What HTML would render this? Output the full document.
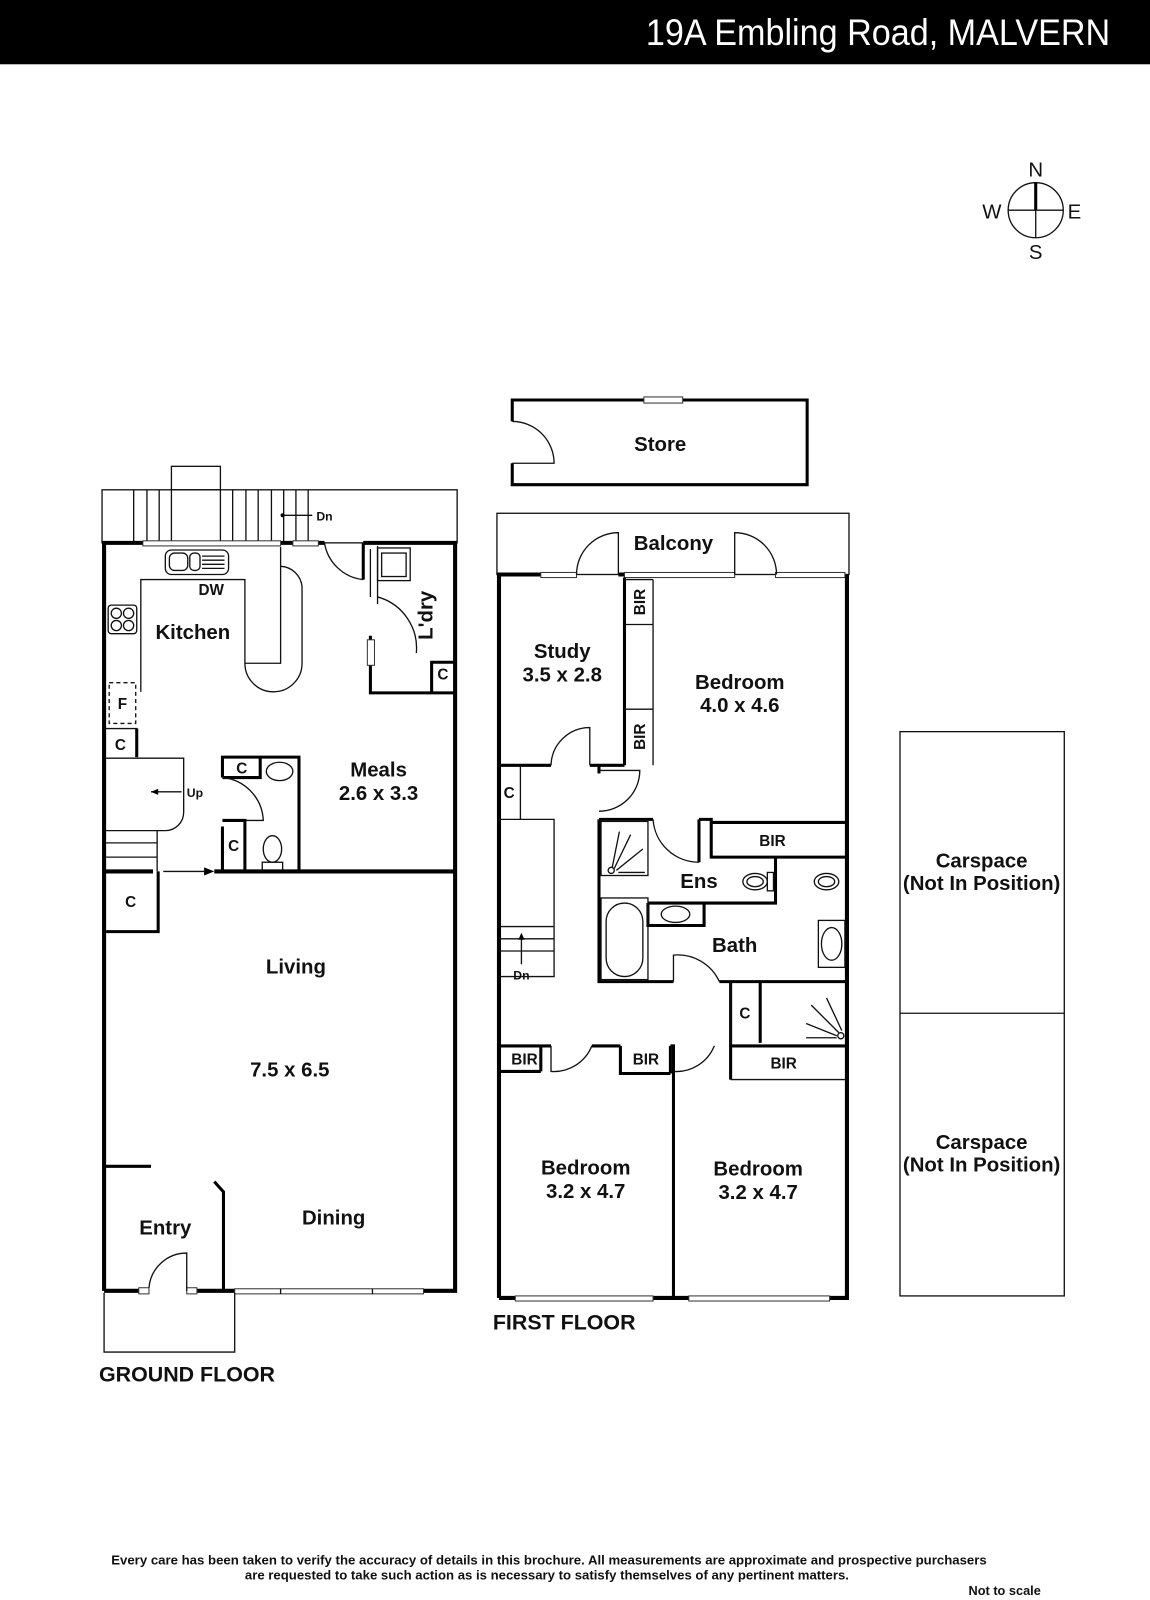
<!DOCTYPE html>
<html><head><meta charset="utf-8"><style>
html,body{margin:0;padding:0;background:#fff}
svg{display:block}
text{font-family:"Liberation Sans Narrow","Liberation Sans",sans-serif;fill:#111}
.t{font-size:20px;font-weight:bold;text-anchor:middle}
.s{font-size:15px;font-weight:bold;text-anchor:middle}
.w{stroke:#000;stroke-width:4;fill:none}
.m{stroke:#000;stroke-width:3;fill:none}
.n{stroke:#111;stroke-width:1.3;fill:none}
.win{stroke:#333;stroke-width:1;fill:#fff}
</style></head><body>
<svg width="1150" height="1600" viewBox="0 0 1127 1568" preserveAspectRatio="none" xmlns="http://www.w3.org/2000/svg">
<rect x="0" y="0" width="1127" height="63" fill="#000"/>
<text x="1088" y="44" font-size="36" style="fill:#fff;text-anchor:end" textLength="455" lengthAdjust="spacingAndGlyphs">19A Embling Road, MALVERN</text>

<!-- compass -->
<circle cx="1015" cy="206" r="27" class="n"/>
<line x1="988" y1="206" x2="1042" y2="206" class="n"/>
<line x1="1015" y1="179" x2="1015" y2="233" class="n"/>
<line x1="1015" y1="179" x2="1015" y2="206" stroke="#000" stroke-width="3"/>
<text x="1015" y="173" font-size="20" text-anchor="middle">N</text>
<text x="1015" y="254" font-size="20" text-anchor="middle">S</text>
<text x="972" y="214" font-size="20" text-anchor="middle">W</text>
<text x="1053" y="214" font-size="20" text-anchor="middle">E</text>

<!-- ================= GROUND FLOOR ================= -->
<rect x="100" y="480" width="348" height="52" class="n"/>
<rect x="168" y="457" width="48" height="23" class="n"/>
<g class="n">
<line x1="131" y1="480" x2="131" y2="532"/><line x1="144" y1="480" x2="144" y2="532"/><line x1="156" y1="480" x2="156" y2="532"/><line x1="168" y1="480" x2="168" y2="532"/>
<line x1="216" y1="480" x2="216" y2="532"/><line x1="228" y1="480" x2="228" y2="532"/><line x1="241" y1="480" x2="241" y2="532"/><line x1="253" y1="480" x2="253" y2="532"/><line x1="266" y1="480" x2="266" y2="532"/><line x1="278" y1="480" x2="278" y2="532"/><line x1="290" y1="480" x2="290" y2="532"/><line x1="302" y1="480" x2="302" y2="532"/>
<line x1="275" y1="505" x2="306" y2="505"/>
</g>
<circle cx="277" cy="505" r="2" fill="#000"/>
<text x="310" y="510" font-size="12" font-weight="bold">Dn</text>

<!-- outer walls -->
<path class="w" d="M102,1265 V532 H140 M275,532 H287 M312,532 H318"/>
<rect x="140" y="530" width="135" height="5" class="win"/>
<rect x="287" y="530" width="25" height="5" class="win"/>
<path class="n" d="M318,532 A43,43 0 0 0 356,568"/>
<path class="w" d="M356,532 H446 V1265 H415 M230,1265 H183 M140,1265 H102"/>
<path class="m" d="M356,532 V568"/>
<rect x="230" y="1263" width="185" height="5" class="win"/>
<line x1="275" y1="1263" x2="275" y2="1268" class="n"/><line x1="365" y1="1263" x2="365" y2="1268" class="n"/>
<rect x="136" y="1262" width="10" height="6" class="win"/><rect x="183" y="1262" width="10" height="6" class="win"/>
<path class="n" d="M183,1265 V1228 A37,37 0 0 0 146,1262"/>
<!-- entry porch -->
<path class="n" d="M102,1267 V1325 H230 V1267"/>

<!-- laundry -->
<path class="n" d="M363,538 V585 M370,592 V535"/>
<path class="n" d="M370,585 A52,52 0 0 1 408,640"/>
<rect x="370" y="537" width="32" height="32" class="n"/><rect x="374" y="542" width="24" height="23" class="n"/>
<path class="m" d="M363,623 V679 H446"/>
<rect x="360" y="627" width="7" height="25" class="win"/>
<path class="m" d="M423,678 V649 H446"/>
<text x="434" y="666" class="s">C</text>
<text x="0" y="0" class="t" transform="translate(424,603) rotate(-90)" font-size="19">L'dry</text>

<!-- kitchen -->
<rect x="162" y="539" width="62" height="24" rx="6" class="n"/>
<rect x="166" y="542" width="18" height="17" rx="5" class="n"/><rect x="186" y="542" width="10" height="17" rx="4" class="n"/>
<path class="n" d="M198,545 H220 M198,549 H220 M198,553 H220 M198,557 H220"/>
<path class="n" d="M138,678 V568 H240 V650 A28,28 0 0 0 296,650 V575 A22,22 0 0 0 275,555 M275,536 V650 H240"/>
<text x="207" y="583" class="s" font-size="17">DW</text>
<rect x="106" y="593" width="28" height="28" rx="3" class="n"/>
<circle cx="114" cy="601" r="5" class="n"/><circle cx="126" cy="601" r="5" class="n"/><circle cx="114" cy="613" r="5" class="n"/><circle cx="126" cy="613" r="5" class="n"/>
<text x="189" y="626" class="t">Kitchen</text>
<rect x="107" y="669" width="26" height="40" class="n" stroke-dasharray="4,3"/>
<text x="120" y="695" class="s">F</text>
<path class="n" d="M102,714 H134 V742"/><path class="m" d="M134,714 V742"/>
<text x="118" y="735" class="s">C</text>
<!-- stair -->
<path class="n" d="M104,743 H180 V796 A18,18 0 0 1 162,814 H104 M154,814 V854 M104,826 H154 M104,840 H154"/>
<line x1="148" y1="776" x2="178" y2="776" class="n"/><path d="M148,776 l7,-3 v6 z" fill="#000"/>
<text x="183" y="781" font-size="12" font-weight="bold">Up</text>
<!-- WC -->
<path class="m" d="M218,762 V742 H293 V854 M218,762 H255 V742"/>
<text x="237" y="758" class="s">C</text>
<ellipse cx="274" cy="756" rx="13" ry="9" class="n"/>
<path class="n" d="M218,762 A44,44 0 0 1 258,804 H218"/>
<path class="m" d="M218,804 H240 V854 M218,810 V854"/>
<text x="229" y="834" class="s">C</text>
<ellipse cx="267" cy="832" rx="9" ry="13" class="n"/>
<rect x="257" y="845" width="20" height="9" class="n"/>
<!-- living wall -->
<path class="w" d="M102,854 H150 M210,854 H446"/>
<line x1="160" y1="854" x2="200" y2="854" class="n"/><path d="M210,854 l-10,-4 v8 z" fill="#000"/>
<path class="m" d="M155,854 V913 H104"/>
<text x="128" y="889" class="s">C</text>
<path class="m" d="M102,1143 H148"/>
<path class="m" d="M219,1265 V1168 L210,1158"/>
<text x="371" y="761" class="t">Meals</text>
<text x="371" y="784" class="t">2.6 x 3.3</text>
<text x="290" y="954" class="t">Living</text>
<text x="284" y="1055" class="t">7.5 x 6.5</text>
<text x="327" y="1200" class="t">Dining</text>
<text x="162" y="1210" class="t">Entry</text>
<text x="97" y="1354" font-size="21" font-weight="bold">GROUND FLOOR</text>

<!-- ================= STORE ================= -->
<path class="m" d="M502,413 V392 H791 V475 H502 V454"/>
<rect x="631" y="389" width="38" height="6" class="win"/>
<path class="n" d="M502,413 A41,41 0 0 1 543,454 H502"/>
<text x="647" y="442" class="t">Store</text>

<!-- ================= FIRST FLOOR ================= -->
<rect x="487" y="503" width="345" height="60" class="n"/>
<text x="660" y="539" class="t">Balcony</text>
<path class="w" d="M489,1272 V563 H530 M606,563 H612 M830,563 V1272 H489"/>
<rect x="530" y="561" width="35" height="5" class="win"/>
<rect x="612" y="561" width="108" height="5" class="win"/>
<rect x="760" y="561" width="68" height="5" class="win"/>
<path class="n" d="M606,563 V522 A41,41 0 0 0 565,563"/>
<path class="n" d="M720,563 V522 A41,41 0 0 1 761,563"/>
<!-- study -->
<path class="m" d="M612,566 V750 M489,750 H540 M578,750 H612"/>
<path class="n" d="M540,750 A38,38 0 0 1 578,713 V750"/>
<path class="n" d="M612,612 H640 V568 M612,695 H640 V750 M640,612 V695 M612,568 H640"/>
<text x="0" y="0" class="s" transform="translate(632,590) rotate(-90)">BIR</text>
<text x="0" y="0" class="s" transform="translate(632,722) rotate(-90)">BIR</text>
<text x="551" y="645" class="t">Study</text>
<text x="551" y="668" class="t">3.5 x 2.8</text>
<text x="725" y="675" class="t">Bedroom</text>
<text x="725" y="698" class="t">4.0 x 4.6</text>
<!-- C and stair -->
<path class="n" d="M510,750 V803 H489"/>
<text x="499" y="782" class="s">C</text>
<path class="n" d="M510,803 H543 V957 H489 M489,908 H543 M489,920 H543 M489,932 H543"/>
<line x1="511" y1="918" x2="511" y2="945" class="n"/><path d="M511,914 l-3,7 h6 z" fill="#000"/>
<text x="511" y="960" font-size="12" font-weight="bold" text-anchor="middle">Dn</text>
<!-- bedroom door -->
<path class="n" d="M587,755 H627 A40,40 0 0 1 587,795"/>
<path class="m" d="M587,750 V758"/>
<!-- ens / bath -->
<path class="m" d="M587,803 V962 H660 M705,962 H830 M587,803 H640 M685,803 H697 V840 H830"/>
<path class="m" d="M685,803 V845 M697,806 H830"/>
<text x="757" y="829" class="s">BIR</text>
<path class="n" d="M640,803 A45,45 0 0 0 685,845"/>
<rect x="589" y="805" width="46" height="53" class="n"/>
<path class="n" d="M600,850 L607,815 M602,851 L618,818 M604,853 L630,832 M606,855 L632,855"/>
<circle cx="599" cy="853" r="3" class="n"/>
<path class="m" d="M635,885 H760 V840 M635,885 V907 H690 V885"/>
<ellipse cx="662" cy="896" rx="14" ry="8" class="n"/>
<ellipse cx="740" cy="864" rx="12" ry="8" class="n"/><ellipse cx="740" cy="864" rx="8" ry="5" class="n"/>
<rect x="752" y="855" width="6" height="18" class="n"/>
<ellipse cx="810" cy="864" rx="12" ry="8" class="n"/><ellipse cx="810" cy="864" rx="8" ry="5" class="n"/>
<rect x="589" y="880" width="46" height="80" class="n"/>
<rect x="594" y="885" width="36" height="72" rx="18" class="n"/>
<rect x="802" y="902" width="26" height="46" class="n"/>
<ellipse cx="815" cy="925" rx="10" ry="16" class="n"/>
<path class="n" d="M660,962 V936 A45,45 0 0 1 705,962"/>
<text x="685" y="870" class="t">Ens</text>
<text x="720" y="933" class="t">Bath</text>
<!-- C and shower -->
<path class="m" d="M745,962 V1022 M716,962 V1022"/>
<path class="n" d="M716,962 V1022"/>
<text x="730" y="998" class="s">C</text>
<path class="n" d="M795,985 L822,1012 M810,978 L825,1010 M790,1003 L820,1015 M790,1017 L820,1017"/>
<circle cx="824" cy="1015" r="3" class="n"/>
<!-- lower walls -->
<path class="m" d="M489,1025 H540 M580,1025 H608 M657,1025 H660 V1272 M716,1022 V1058 M716,1025 H830"/>
<path class="n" d="M540,1025 V1050 A40,40 0 0 0 580,1025"/>
<path class="n" d="M660,1050 A40,40 0 0 0 700,1025 M716,1058 H830"/>
<path class="m" d="M530,1025 V1050 M489,1050 H530"/>
<text x="514" y="1043" class="s">BIR</text>
<path class="m" d="M608,1025 V1052 H657 M657,1025 V1052"/>
<text x="633" y="1043" class="s">BIR</text>
<text x="768" y="1047" class="s">BIR</text>
<rect x="675" y="1270" width="138" height="5" class="win"/>
<rect x="505" y="1270" width="135" height="5" class="win"/>
<text x="574" y="1151" class="t">Bedroom</text>
<text x="574" y="1174" class="t">3.2 x 4.7</text>
<text x="743" y="1152" class="t">Bedroom</text>
<text x="743" y="1175" class="t">3.2 x 4.7</text>
<text x="483" y="1303" font-size="21" font-weight="bold">FIRST FLOOR</text>

<!-- carspaces -->
<rect x="882" y="717" width="161" height="553" class="n"/>
<line x1="882" y1="993" x2="1043" y2="993" class="n"/>
<text x="962" y="850" class="t">Carspace</text>
<text x="962" y="872" class="t">(Not In Position)</text>
<text x="962" y="1126" class="t">Carspace</text>
<text x="962" y="1148" class="t">(Not In Position)</text>

<text x="538" y="1533" font-size="12.5" font-weight="bold" text-anchor="middle" textLength="858" lengthAdjust="spacingAndGlyphs">Every care has been taken to verify the accuracy of details in this brochure.  All measurements are approximate and prospective purchasers</text>
<text x="536" y="1548" font-size="12.5" font-weight="bold" text-anchor="middle" textLength="592" lengthAdjust="spacingAndGlyphs">are requested to take such action as is necessary to satisfy themselves of any pertinent matters.</text>
<text x="1020" y="1563" font-size="12.5" font-weight="bold" text-anchor="end">Not to scale</text>
</svg>
</body></html>
